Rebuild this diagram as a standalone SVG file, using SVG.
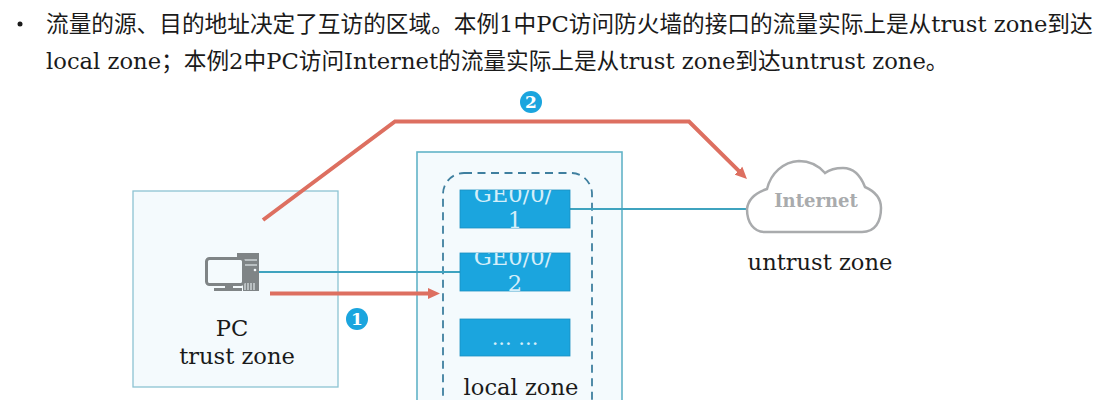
<svg xmlns="http://www.w3.org/2000/svg" width="1117" height="400" viewBox="0 0 1117 400">
<style>
text{font-family:"DejaVu Serif","Noto Sans CJK SC",serif;font-size:22.6px;fill:#1a1a1a}
.d{font-size:22.67px}
.c{text-anchor:middle}
.zone{fill:#f4fafd;stroke:#8dc3d3;stroke-width:1.300}
.zone2{fill:#f4fafd;stroke:#62b3c7;stroke-width:1.600}
.port{fill:#1ba5de;stroke:#1b8fc0;stroke-width:.8}
.pt{fill:#d5eef9;text-anchor:middle}
.link{fill:none;stroke:#3fa3bf;stroke-width:2}
.flow{fill:none;stroke:#dd6f60;stroke-width:4}
.badge{fill:#1ba5de}
.bt{fill:#fff;font-size:17px;font-weight:bold;text-anchor:middle}
</style>
<defs>
<marker id="ah" markerUnits="userSpaceOnUse" markerWidth="14" markerHeight="12" refX="4" refY="6" orient="auto"><path d="M0 .5L12 6L0 11.500Z" fill="#dd6f60"/></marker>
<clipPath id="c1"><rect x="460" y="190" width="110" height="38"/></clipPath>
<clipPath id="c2"><rect x="460" y="253" width="110" height="38"/></clipPath>
</defs>
<g id="description">
<circle cx="20" cy="24" r="2.5" fill="#1a1a1a"/>
<text class="d" x="46" y="32">流量的源、目的地址决定了互访的区域。本例1中PC访问防火墙的接口的流量实际上是从trust zone到达</text>
<text class="d" x="46" y="69">local zone；本例2中PC访问Internet的流量实际上是从trust zone到达untrust zone。</text>
</g>
<g id="trust-zone"><rect class="zone" x="133" y="191" width="205" height="196"/></g>
<g id="local-zone"><rect class="zone2" x="417" y="152" width="205" height="260"/>
<rect x="443" y="173" width="149" height="250" rx="21" fill="none" stroke="#3f7f9f" stroke-width="1.800" stroke-dasharray="8 5.500"/></g>
<g id="connectors">
<path class="link" d="M258 272H460"/>
<path class="link" d="M570 209H747"/>
<path class="flow" d="M270 293.500H432" marker-end="url(#ah)"/>
<path class="flow" d="M263 220L395 121.500H689L741.300 173.400" marker-end="url(#ah)"/>
</g>
<g id="port-1"><rect class="port" x="460" y="190" width="110" height="38"/>
<g clip-path="url(#c1)"><text class="pt" x="513" y="202">GE0/0/</text><text class="pt" x="515" y="228">1</text></g></g>
<g id="port-2"><rect class="port" x="460" y="253" width="110" height="38"/>
<g clip-path="url(#c2)"><text class="pt" x="513" y="265">GE0/0/</text><text class="pt" x="515" y="291">2</text></g></g>
<g id="port-more"><rect class="port" x="460" y="319" width="110" height="37"/><text class="pt" x="515" y="345" style="font-size:21px">... ...</text></g>
<g id="local-label"><text class="c" x="521" y="395">local zone</text></g>
<g id="pc">
<g fill="#7f8486">
<path d="M237 253H259V291H243V284H237Z"/>
<rect x="214" y="288" width="28" height="3"/>
<rect x="225" y="284" width="8" height="5"/>
</g>
<path d="M243 260H257M243 265H257" stroke="#f4fafd" stroke-width="1" fill="none"/>
<circle cx="255" cy="270" r="1.300" fill="#f4fafd"/>
<path d="M245 290V283M248 290V283M251 290V283M254 290V283" stroke="#f4fafd" stroke-width="1"/>
<rect x="206.500" y="258.500" width="37" height="26" rx="3" fill="#f4fafd" stroke="#7f8486" stroke-width="3"/>
<text class="c" x="232" y="336">PC</text>
<text class="c" x="237" y="364">trust zone</text>
</g>
<g id="internet">
<path d="M765 232H862C875 232 881 222 881 208C881 198 874 191 865 187C860 174 852 168 843 168C836 168 829 170 825 173C818 165 809 161 799 161C783 162 771 173 767 189C755 193 748 200 747 209C747 223 754 232 765 232Z" fill="#fff" stroke="#a9abad" stroke-width="2.500"/>
<text class="c" x="816" y="207" style="font-size:18px;font-weight:bold;fill:#a9abad">Internet</text>
<text class="c" x="820" y="270">untrust zone</text>
</g>
<g id="badge-1"><circle class="badge" cx="357" cy="319" r="11"/><text class="bt" x="357" y="325">1</text></g>
<g id="badge-2"><circle class="badge" cx="531" cy="102" r="11"/><text class="bt" x="531" y="108">2</text></g>
</svg>
